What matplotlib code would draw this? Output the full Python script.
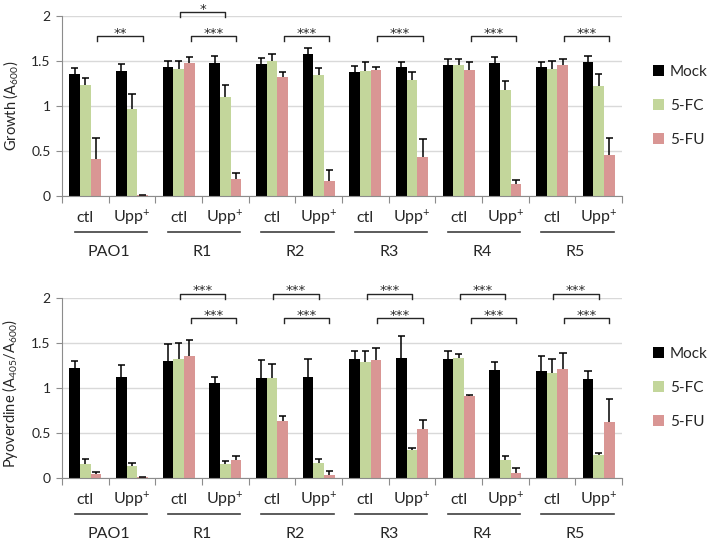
import numpy as np
import matplotlib
matplotlib.use("Agg")
import matplotlib.pyplot as plt
from matplotlib.transforms import blended_transform_factory

plt.rcParams['font.family'] = ['Lato', 'DejaVu Sans']
plt.rcParams['mathtext.fontset'] = 'custom'
plt.rcParams['mathtext.rm'] = 'Lato'
plt.rcParams['mathtext.it'] = 'Lato:italic'

# data
strains = ['PAO1', 'R1', 'R2', 'R3', 'R4', 'R5']
conditions = ['ctl', 'Upp$^\\mathregular{+}$']
treatments = ['Mock', '5-FC', '5-FU']

growth_mock = [1.35, 1.39, 1.43, 1.48, 1.46, 1.57, 1.37, 1.43, 1.45, 1.48, 1.43, 1.49]
growth_mock_err = [0.07, 0.07, 0.07, 0.07, 0.07, 0.07, 0.07, 0.06, 0.07, 0.06, 0.06, 0.06]
growth_5fc = [1.23, 0.97, 1.41, 1.10, 1.50, 1.34, 1.39, 1.29, 1.45, 1.18, 1.41, 1.22]
growth_5fc_err = [0.08, 0.16, 0.09, 0.13, 0.08, 0.08, 0.10, 0.09, 0.07, 0.09, 0.09, 0.13]
growth_5fu = [0.41, 0.01, 1.47, 0.19, 1.32, 0.17, 1.40, 0.43, 1.40, 0.13, 1.45, 0.45]
growth_5fu_err = [0.23, 0.0, 0.07, 0.06, 0.06, 0.12, 0.03, 0.20, 0.09, 0.05, 0.07, 0.19]

pyo_mock = [1.22, 1.12, 1.30, 1.05, 1.11, 1.12, 1.32, 1.33, 1.32, 1.20, 1.18, 1.10]
pyo_mock_err = [0.08, 0.13, 0.18, 0.07, 0.20, 0.20, 0.09, 0.24, 0.09, 0.09, 0.17, 0.09]
pyo_5fc = [0.15, 0.13, 1.32, 0.155, 1.11, 0.17, 1.28, 0.31, 1.33, 0.20, 1.16, 0.25]
pyo_5fc_err = [0.06, 0.03, 0.18, 0.03, 0.15, 0.04, 0.13, 0.02, 0.04, 0.04, 0.16, 0.03]
pyo_5fu = [0.044, 0.005, 1.35, 0.20, 0.63, 0.03, 1.31, 0.54, 0.91, 0.05, 1.21, 0.62]
pyo_5fu_err = [0.02, 0.0, 0.18, 0.04, 0.06, 0.05, 0.13, 0.10, 0.01, 0.06, 0.18, 0.25]

# significance: (strain index, treatment, stars)
growth_sig = [(0, '5-FU', '**'), (1, '5-FC', '*'), (1, '5-FU', '***'), (2, '5-FU', '***'),
              (3, '5-FU', '***'), (4, '5-FU', '***'), (5, '5-FU', '***')]
pyo_sig = [(i, t, '***') for i in range(1, 6) for t in ['5-FC', '5-FU']]

colors = {'Mock': '#000000', '5-FC': '#c3d69b', '5-FU': '#d99694'}
offsets = {'Mock': -0.23, '5-FC': 0.0, '5-FU': 0.23}
bracket_y = {'5-FC': 2.04, '5-FU': 1.77}
width = 0.23
cap = 0.08
text_col = '#262626'
axis_col = '#8c8c8c'

fig = plt.figure(figsize=(7.09, 5.40), dpi=100)
ax1 = fig.add_axes([0.0874, 0.637, 0.790, 0.334])
ax2 = fig.add_axes([0.0874, 0.115, 0.790, 0.334])


def draw_panel(ax, series, sig, ylabel, label_y):
    x = np.arange(len(strains) * 2)
    for name, (vals, errs) in zip(treatments, series):
        xs = x + offsets[name]
        vals = np.array(vals)
        tops = vals + np.array(errs)
        ax.bar(xs, vals, width, color=colors[name], label=name, zorder=2)
        # one-sided error bars (upper only)
        ax.vlines(xs, vals, tops, color='black', lw=1.1, zorder=3)
        ax.hlines(tops, xs - cap, xs + cap, color='black', lw=1.1, zorder=3)

    ax.set_xlim(-0.5, len(x) - 0.5)
    ax.set_ylim(0, 2)
    ax.set_yticks([0, 0.5, 1, 1.5, 2])
    ax.set_yticklabels(['0', '0.5', '1', '1.5', '2'])
    ax.yaxis.grid(True, color='#d9d9d9', lw=1)
    ax.set_axisbelow(True)
    for s in ['top', 'right']:
        ax.spines[s].set_visible(False)
    ax.spines['left'].set_color(axis_col)
    ax.spines['bottom'].set_color(axis_col)
    ax.tick_params(axis='y', length=4, color=axis_col, labelsize=10, labelcolor=text_col, pad=4)
    ax.set_xticks(np.arange(-0.5, len(x), 1))
    ax.set_xticklabels([])
    ax.tick_params(axis='x', length=5, color=axis_col)

    ax.set_ylabel(ylabel, fontsize=10.5, color=text_col)
    ax.yaxis.set_label_coords(-0.075, label_y)

    tr = blended_transform_factory(ax.transData, ax.transAxes)
    for i, st in enumerate(strains):
        for j, cond in enumerate(conditions):
            ax.text(2 * i + j, -0.12, cond, transform=tr, ha='center', va='center',
                    fontsize=11.5, color=text_col)
        ax.plot([2 * i - 0.23, 2 * i + 1.32], [-0.2, -0.2], transform=tr,
                color='#404040', lw=1.2, clip_on=False)
        ax.text(2 * i + 0.5, -0.31, st, transform=tr, ha='center', va='center',
                fontsize=11.5, color=text_col)

    for i, t, stars in sig:
        x1 = 2 * i + offsets[t] + 0.03
        x2 = 2 * i + 1 + offsets[t]
        y = bracket_y[t]
        ax.plot([x1, x1, x2, x2], [y - 0.055, y, y, y - 0.055], color=text_col,
                lw=1.0, clip_on=False, zorder=4)
        ax.text((x1 + x2) / 2, y - 0.005, stars, ha='center', va='baseline',
                fontsize=9.5, family='DejaVu Sans', color=text_col)

    ax.legend(loc='center left', bbox_to_anchor=(1.055, 0.5), frameon=False,
              handlelength=0.7, handleheight=0.7, handletextpad=0.4,
              labelspacing=1.3, borderaxespad=0, borderpad=0,
              fontsize=11, labelcolor=text_col)


draw_panel(ax1, [(growth_mock, growth_mock_err), (growth_5fc, growth_5fc_err),
                 (growth_5fu, growth_5fu_err)], growth_sig,
           'Growth (A$_\\mathregular{600}$)', 0.5)
draw_panel(ax2, [(pyo_mock, pyo_mock_err), (pyo_5fc, pyo_5fc_err),
                 (pyo_5fu, pyo_5fu_err)], pyo_sig,
           'Pyoverdine (A$_\\mathregular{405}$/A$_\\mathregular{600}$)', 0.47)

fig.savefig('out.png', dpi=100)
